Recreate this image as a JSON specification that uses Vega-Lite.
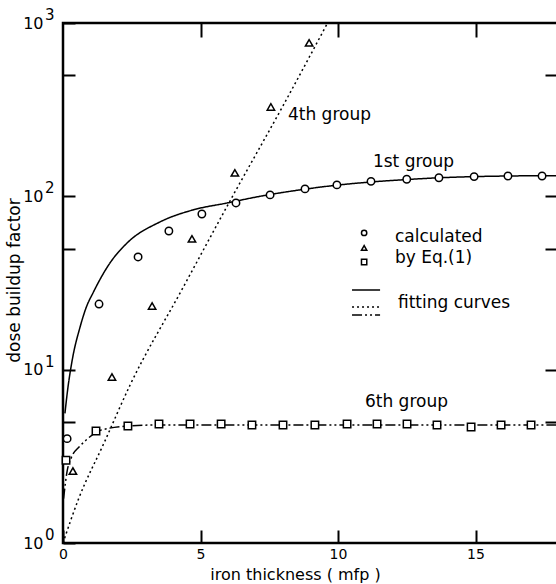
{
  "$schema": "https://vega.github.io/schema/vega-lite/v6.json",
  "width": 495,
  "height": 520,
  "autosize": {"type": "none"},
  "padding": {"left": 63, "top": 23, "right": 0, "bottom": 41},
  "background": "white",
  "config": {
    "view": {"stroke": "black", "strokeWidth": 2.5},
    "font": "DejaVu Sans",
    "axis": {"grid": false, "domain": false, "tickColor": "black", "tickWidth": 2, "labelColor": "black", "titleColor": "black", "labelFont": "DejaVu Sans", "titleFont": "DejaVu Sans", "titleFontWeight": "normal", "labelFlush": false, "labelOverlap": false, "labelBound": false}
  },
  "datasets": {
    "curves": [
      {"group": "1st", "x": 0.07, "y": 5.6}, {"group": "1st", "x": 0.18, "y": 7.9}, {"group": "1st", "x": 0.35, "y": 11.7},
      {"group": "1st", "x": 0.62, "y": 17.6}, {"group": "1st", "x": 0.85, "y": 23}, {"group": "1st", "x": 1.09, "y": 27.7},
      {"group": "1st", "x": 1.71, "y": 41.3}, {"group": "1st", "x": 2.33, "y": 53.8}, {"group": "1st", "x": 3.53, "y": 71.2},
      {"group": "1st", "x": 4.73, "y": 83.5}, {"group": "1st", "x": 5.96, "y": 91.5}, {"group": "1st", "x": 7.16, "y": 100},
      {"group": "1st", "x": 8.8, "y": 110}, {"group": "1st", "x": 9.96, "y": 116}, {"group": "1st", "x": 11.2, "y": 121},
      {"group": "1st", "x": 12.5, "y": 125}, {"group": "1st", "x": 13.7, "y": 128}, {"group": "1st", "x": 15, "y": 130},
      {"group": "1st", "x": 16.2, "y": 131}, {"group": "1st", "x": 17.4, "y": 131.5}, {"group": "1st", "x": 18, "y": 131.5},
      {"group": "4th", "x": 0, "y": 1}, {"group": "4th", "x": 0.55, "y": 1.77}, {"group": "4th", "x": 1.5, "y": 3.8},
      {"group": "4th", "x": 2.44, "y": 8.16}, {"group": "4th", "x": 4.3, "y": 28.5}, {"group": "4th", "x": 6.15, "y": 99},
      {"group": "4th", "x": 8, "y": 333}, {"group": "4th", "x": 9.62, "y": 1000},
      {"group": "6th", "x": 0.02, "y": 1.8}, {"group": "6th", "x": 0.15, "y": 2.6}, {"group": "6th", "x": 0.3, "y": 3.1},
      {"group": "6th", "x": 0.6, "y": 3.6}, {"group": "6th", "x": 0.9, "y": 4.0}, {"group": "6th", "x": 1.2, "y": 4.35},
      {"group": "6th", "x": 1.7, "y": 4.6}, {"group": "6th", "x": 2.36, "y": 4.73}, {"group": "6th", "x": 3.5, "y": 4.8},
      {"group": "6th", "x": 18, "y": 4.8}
    ],
    "points": [
      {"group": "1st", "x": 0.15, "y": 4.0}, {"group": "1st", "x": 1.31, "y": 23.9}, {"group": "1st", "x": 2.73, "y": 44.7},
      {"group": "1st", "x": 3.85, "y": 63.1}, {"group": "1st", "x": 5.05, "y": 79.1}, {"group": "1st", "x": 6.29, "y": 91.6},
      {"group": "1st", "x": 7.53, "y": 101.9}, {"group": "1st", "x": 8.8, "y": 110.4}, {"group": "1st", "x": 9.96, "y": 116.4},
      {"group": "1st", "x": 11.2, "y": 122}, {"group": "1st", "x": 12.5, "y": 125.5}, {"group": "1st", "x": 13.67, "y": 128},
      {"group": "1st", "x": 14.95, "y": 130}, {"group": "1st", "x": 16.18, "y": 131}, {"group": "1st", "x": 17.42, "y": 131},
      {"group": "4th", "x": 0.36, "y": 2.6}, {"group": "4th", "x": 1.78, "y": 9.07}, {"group": "4th", "x": 3.24, "y": 23.3},
      {"group": "4th", "x": 4.69, "y": 56.8}, {"group": "4th", "x": 6.25, "y": 136.5}, {"group": "4th", "x": 7.56, "y": 328},
      {"group": "4th", "x": 8.95, "y": 768},
      {"group": "6th", "x": 0.11, "y": 3.0}, {"group": "6th", "x": 1.2, "y": 4.43}, {"group": "6th", "x": 2.36, "y": 4.73},
      {"group": "6th", "x": 3.49, "y": 4.86}, {"group": "6th", "x": 4.62, "y": 4.86}, {"group": "6th", "x": 5.75, "y": 4.86},
      {"group": "6th", "x": 6.87, "y": 4.8}, {"group": "6th", "x": 8.0, "y": 4.8}, {"group": "6th", "x": 9.16, "y": 4.8},
      {"group": "6th", "x": 10.33, "y": 4.86}, {"group": "6th", "x": 11.42, "y": 4.86}, {"group": "6th", "x": 12.51, "y": 4.86},
      {"group": "6th", "x": 13.6, "y": 4.8}, {"group": "6th", "x": 14.84, "y": 4.67}, {"group": "6th", "x": 15.93, "y": 4.8},
      {"group": "6th", "x": 17.02, "y": 4.8}
    ],
    "legendPts": [
      {"group": "1st", "x": 10.95, "y": 61.5},
      {"group": "4th", "x": 10.95, "y": 50.4},
      {"group": "6th", "x": 10.95, "y": 41.8}
    ],
    "legendLines": [
      {"group": "1st", "x": 10.51, "y": 28.8}, {"group": "1st", "x": 11.53, "y": 28.8},
      {"group": "4th", "x": 10.51, "y": 23.0}, {"group": "4th", "x": 11.53, "y": 23.0},
      {"group": "6th", "x": 10.51, "y": 20.7}, {"group": "6th", "x": 11.53, "y": 20.7}
    ],
    "labels": [
      {"x": 8.18, "y": 276, "text": "4th group"},
      {"x": 11.27, "y": 148, "text": "1st group"},
      {"x": 10.98, "y": 6.09, "text": "6th group"},
      {"x": 12.07, "y": 54.6, "text": "calculated"},
      {"x": 12.07, "y": 41.3, "text": "by Eq.(1)"},
      {"x": 12.18, "y": 22.7, "text": "fitting curves"}
    ],
    "exps": [
      {"v": 1, "e": "0"}, {"v": 10, "e": "1"}, {"v": 100, "e": "2"}, {"v": 1000, "e": "3"}
    ]
  },
  "resolve": {"axis": {"x": "independent", "y": "independent"}},
  "layer": [
    {
      "data": {"name": "curves"},
      "mark": {"type": "line", "color": "black", "strokeWidth": 1.5, "interpolate": "monotone"},
      "encoding": {
        "x": {"field": "x", "type": "quantitative", "scale": {"domain": [0, 18], "nice": false, "zero": false},
          "axis": {"orient": "bottom", "values": [0, 5, 10, 15], "tickSize": -13, "labelPadding": 17, "labelFontSize": 14,
            "title": "iron thickness ( mfp )", "titleFontSize": 16, "titleX": 232, "titleY": 39, "titleAlign": "center", "titleBaseline": "bottom"}},
        "y": {"field": "y", "type": "quantitative", "scale": {"type": "log", "domain": [1, 1000], "nice": false},
          "axis": {"orient": "left", "values": [1, 5, 10, 50, 100, 500, 1000], "tickSize": -12, "labelPadding": 32, "labelFontSize": 16,
            "labelExpr": "(datum.value == 1 || datum.value == 10 || datum.value == 100 || datum.value == 1000) ? '10' : ''",
            "labelAlign": "right", "labelBaseline": "middle",
            "title": "dose buildup factor", "titleFontSize": 17, "titleX": -49, "titleY": 257, "titleAngle": -90, "titleAlign": "center", "titleBaseline": "middle"}},
        "detail": {"field": "group"},
        "strokeDash": {"field": "group", "type": "nominal", "scale": {"domain": ["1st", "4th", "6th"], "range": [[1, 0], [2, 3], [10, 3, 2, 3, 2, 3]]}, "legend": null}
      }
    },
    {
      "data": {"name": "curves"},
      "mark": {"type": "line", "opacity": 0},
      "encoding": {
        "x": {"field": "x", "type": "quantitative", "axis": {"orient": "top", "values": [5, 10, 15], "tickSize": -14, "labels": false, "title": null}},
        "y": {"field": "y", "type": "quantitative", "axis": {"orient": "right", "values": [5, 10, 50, 100, 500], "tickSize": -13, "labels": false, "title": null}},
        "detail": {"field": "group"}
      }
    },
    {
      "data": {"name": "legendLines"},
      "mark": {"type": "line", "color": "black", "strokeWidth": 1.5},
      "encoding": {
        "x": {"field": "x", "type": "quantitative", "axis": null},
        "y": {"field": "y", "type": "quantitative", "axis": null},
        "detail": {"field": "group"},
        "strokeDash": {"field": "group", "type": "nominal", "legend": null}
      }
    },
    {
      "data": {"name": "points"},
      "mark": {"type": "point", "filled": true, "fill": "white", "stroke": "black", "strokeWidth": 1.5, "size": 55, "opacity": 1},
      "encoding": {
        "x": {"field": "x", "type": "quantitative", "axis": null},
        "y": {"field": "y", "type": "quantitative", "axis": null},
        "shape": {"field": "group", "type": "nominal", "scale": {"domain": ["1st", "4th", "6th"], "range": ["circle", "triangle-up", "square"]}, "legend": null}
      }
    },
    {
      "data": {"name": "legendPts"},
      "mark": {"type": "point", "filled": true, "fill": "white", "stroke": "black", "strokeWidth": 1.5, "size": 28, "opacity": 1},
      "encoding": {
        "x": {"field": "x", "type": "quantitative", "axis": null},
        "y": {"field": "y", "type": "quantitative", "axis": null},
        "shape": {"field": "group", "type": "nominal", "legend": null}
      }
    },
    {
      "data": {"name": "labels"},
      "mark": {"type": "text", "align": "left", "baseline": "alphabetic", "fontSize": 17, "color": "black", "font": "DejaVu Sans"},
      "encoding": {
        "x": {"field": "x", "type": "quantitative", "axis": null},
        "y": {"field": "y", "type": "quantitative", "axis": null},
        "text": {"field": "text"}
      }
    },
    {
      "data": {"name": "exps"},
      "mark": {"type": "text", "align": "left", "baseline": "middle", "fontSize": 15, "color": "black", "font": "DejaVu Sans", "dx": -18, "dy": -8},
      "encoding": {
        "x": {"datum": 0, "type": "quantitative", "axis": null},
        "y": {"field": "v", "type": "quantitative", "axis": null},
        "text": {"field": "e"}
      }
    }
  ]
}
